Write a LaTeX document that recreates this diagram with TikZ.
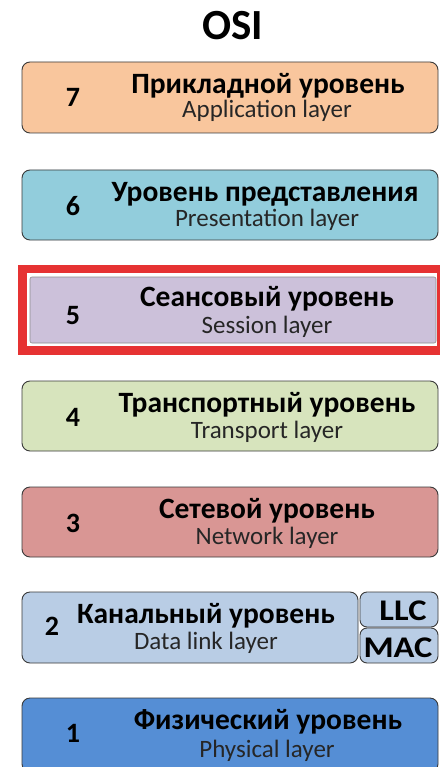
\documentclass[tikz,border=0pt]{standalone}
\usepackage{fontspec}
\setmainfont{Carlito}
\definecolor{c7}{HTML}{F9C69D}
\definecolor{c6}{HTML}{92CDDC}
\definecolor{c5}{HTML}{CCC1DA}
\definecolor{c4}{HTML}{D7E4BD}
\definecolor{c3}{HTML}{D99694}
\definecolor{c2}{HTML}{B9CDE5}
\definecolor{c1}{HTML}{558ED5}
\definecolor{redframe}{HTML}{E63232}
\definecolor{edge}{HTML}{3A3A3A}
\tikzset{
  layerbox/.style={draw=edge, line width=0.9pt, rounded corners=8pt},
  numtxt/.style={font=\fontsize{28}{30}\selectfont\bfseries, anchor=base, inner sep=0pt},
  ttl/.style={font=\fontsize{29.5}{31}\selectfont\bfseries, anchor=base, inner sep=0pt},
  sub/.style={font=\fontsize{25}{27}\selectfont, text=black!85, anchor=base, inner sep=0pt},
  subbox/.style={draw=edge, line width=0.9pt, rounded corners=7pt, fill=c2},
  subttl/.style={font=\fontsize{30}{32}\selectfont\bfseries, anchor=base, inner sep=0pt, xscale=1.15},
}
\begin{document}
\begin{tikzpicture}[x=1pt,y=-1pt]
\useasboundingbox (0,0) rectangle (440,767);
\fill[white] (0,0) rectangle (440,767);
\node[font=\fontsize{43}{45}\selectfont\bfseries, anchor=base, inner sep=0pt] (osi) at (233,40) {OSI};
% 7
\path[layerbox, fill=c7] (22,62) rectangle (438,133);
\node[numtxt] (n7) at (73,107) {7};
\node[ttl] (t7) at (268,94) {Прикладной уровень};
\node[sub] (s7) at (267,118) {Application layer};
% 6
\path[layerbox, fill=c6] (22,170) rectangle (438,240);
\node[numtxt] (n6) at (73,215) {6};
\node[ttl] (t6) at (265,201) {Уровень представления};
\node[sub] (s6) at (267,226) {Presentation layer};
% 5
\fill[redframe] (18,265) rectangle (440,355);
\fill[white] (27,273) rectangle (437,346);
\path[draw=black!45, line width=0.6pt, fill=c5, rounded corners=2pt] (30,277) rectangle (436,343);
\node[numtxt] (n5) at (73,324) {5};
\node[ttl] (t5) at (267,306) {Сеансовый уровень};
\node[sub] (s5) at (267,333) {Session layer};
% 4
\path[layerbox, fill=c4] (22,381) rectangle (438,451);
\node[numtxt] (n4) at (73,426) {4};
\node[ttl] (t4) at (267,412) {Транспортный уровень};
\node[sub] (s4) at (267,438) {Transport layer};
% 3
\path[layerbox, fill=c3] (22,487) rectangle (438,557);
\node[numtxt] (n3) at (73,532) {3};
\node[ttl] (t3) at (267,518) {Сетевой уровень};
\node[sub] (s3) at (267,544) {Network layer};
% 2
\path[layerbox, fill=c2] (22,592) rectangle (358,663);
\node[numtxt] (n2) at (52,635) {2};
\node[ttl] (t2) at (206,623) {Канальный уровень};
\node[sub] (s2) at (206,649) {Data link layer};
\path[subbox] (360,592) rectangle (438,627);
\node[subttl] (llc) at (403,620) {LLC};
\path[subbox] (360,628) rectangle (438,663);
\node[subttl] (mac) at (398,657) {MAC};
% 1
\path[layerbox, fill=c1] (22,698) rectangle (438,772);
\node[numtxt] (n1) at (73,742) {1};
\node[ttl] (t1) at (268,729) {Физический уровень};
\node[sub] (s1) at (267,757) {Physical layer};
\end{tikzpicture}
\end{document}
